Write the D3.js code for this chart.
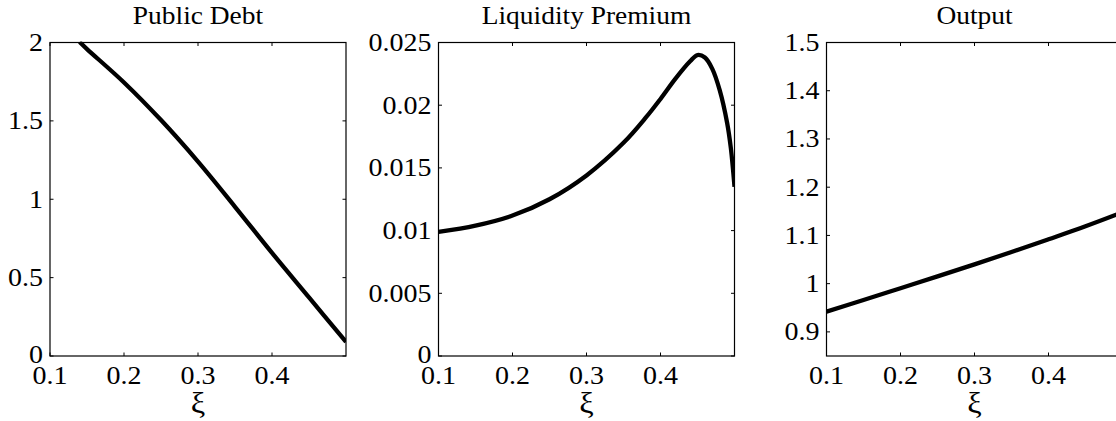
<!DOCTYPE html>
<html><head><meta charset="utf-8">
<script src="https://cdn.jsdelivr.net/npm/d3@7"></script>
<style>html,body{margin:0;padding:0;background:#fff;overflow:hidden}svg{display:block}</style>
</head><body>
<svg id="c" width="1116" height="421"></svg>
<script>
const titles = ["Public Debt", "Liquidity Premium", "Output"];
const xLabel = "ξ";
const xTicks = [0.1, 0.2, 0.3, 0.4];
const xTickLabels = ["0.1", "0.2", "0.3", "0.4"];

const debtX = [0.14, 0.15, 0.20, 0.25, 0.30, 0.35, 0.40, 0.45, 0.50];
const debtY = [2.003, 1.958, 1.745, 1.505, 1.24, 0.952, 0.658, 0.374, 0.09];

const premX = [0.10, 0.15, 0.20, 0.25, 0.30, 0.35, 0.38, 0.40, 0.42, 0.44, 0.45, 0.46, 0.47, 0.48, 0.49, 0.495, 0.50];
const premY = [0.0099, 0.0104, 0.0112, 0.0125, 0.0144, 0.0170, 0.0190, 0.0205, 0.0221, 0.0235, 0.0240, 0.0238, 0.0229, 0.0212, 0.0186, 0.0166, 0.0135];

const outX = [0.10, 0.15, 0.20, 0.25, 0.30, 0.35, 0.40, 0.45, 0.50];
const outY = [0.942, 0.966, 0.9905, 1.015, 1.040, 1.0655, 1.092, 1.119, 1.148];

const yDomains = [[0, 2], [0, 0.025], [0.85, 1.5]];
const yTicks = [[0, 0.5, 1, 1.5, 2], [0, 0.005, 0.01, 0.015, 0.02, 0.025], [0.9, 1, 1.1, 1.2, 1.3, 1.4, 1.5]];
const yTickLabels = [["0", "0.5", "1", "1.5", "2"], ["0", "0.005", "0.01", "0.015", "0.02", "0.025"], ["0.9", "1", "1.1", "1.2", "1.3", "1.4", "1.5"]];
const seriesX = [debtX, premX, outX];
const seriesY = [debtY, premY, outY];

const svg = d3.select("#c");
const lefts = [50, 438.5, 826.5];
const W = 296, plotTop = 42.5, plotBottom = 356;
const FONT = "'Liberation Serif','Times New Roman',serif";
const SX = 1.12;

function txt(g, x, y, s, anchor, size) {
  return g.append("text")
    .attr("transform", `translate(${x},${y}) scale(${SX},1)`)
    .attr("text-anchor", anchor)
    .attr("font-family", FONT)
    .attr("font-size", size)
    .attr("fill", "#000")
    .text(s);
}

for (let p = 0; p < 3; p++) {
  const L = lefts[p];
  const x = d3.scaleLinear().domain([0.1, 0.5]).range([L, L + W]);
  const y = d3.scaleLinear().domain(yDomains[p]).range([plotBottom, plotTop]);
  const g = svg.append("g");

  const cid = "clip" + p;
  svg.append("clipPath").attr("id", cid).append("rect")
    .attr("x", L).attr("y", plotTop - 1).attr("width", W).attr("height", plotBottom - plotTop + 2);

  const tk = 3.5;
  xTicks.forEach(t => {
    g.append("line").attr("x1", x(t)).attr("x2", x(t)).attr("y1", plotBottom).attr("y2", plotBottom - tk).attr("stroke", "#000").attr("stroke-width", 1);
    g.append("line").attr("x1", x(t)).attr("x2", x(t)).attr("y1", plotTop).attr("y2", plotTop + tk).attr("stroke", "#000").attr("stroke-width", 1);
  });
  yTicks[p].forEach(t => {
    g.append("line").attr("x1", L).attr("x2", L + tk).attr("y1", y(t)).attr("y2", y(t)).attr("stroke", "#000").attr("stroke-width", 1);
    g.append("line").attr("x1", L + W).attr("x2", L + W - tk).attr("y1", y(t)).attr("y2", y(t)).attr("stroke", "#000").attr("stroke-width", 1);
  });

  const pts = seriesX[p].map((v, i) => [v, seriesY[p][i]]);
  const line = d3.line().x(d => x(d[0])).y(d => y(d[1])).curve(d3.curveCatmullRom.alpha(0.5));
  g.append("path").attr("d", line(pts)).attr("fill", "none").attr("stroke", "#000")
    .attr("stroke-width", 4.3).attr("stroke-linejoin", "round").attr("clip-path", `url(#${cid})`);

  g.append("rect").attr("x", L).attr("y", plotTop).attr("width", W).attr("height", plotBottom - plotTop)
    .attr("fill", "none").attr("stroke", "#000").attr("stroke-width", 1.2);

  xTicks.forEach((t, i) => txt(g, x(t), 384, xTickLabels[i], "middle", 25));
  yTicks[p].forEach((t, i) => txt(g, L - 7, y(t) + 8.5 - (t === yDomains[p][0] ? 1.5 : 0), yTickLabels[p][i], "end", 25));

  txt(g, L + W / 2, 24, titles[p], "middle", 24.5);
  txt(g, L + W / 2, 413, xLabel, "middle", 29);
}
</script>
</body></html>
